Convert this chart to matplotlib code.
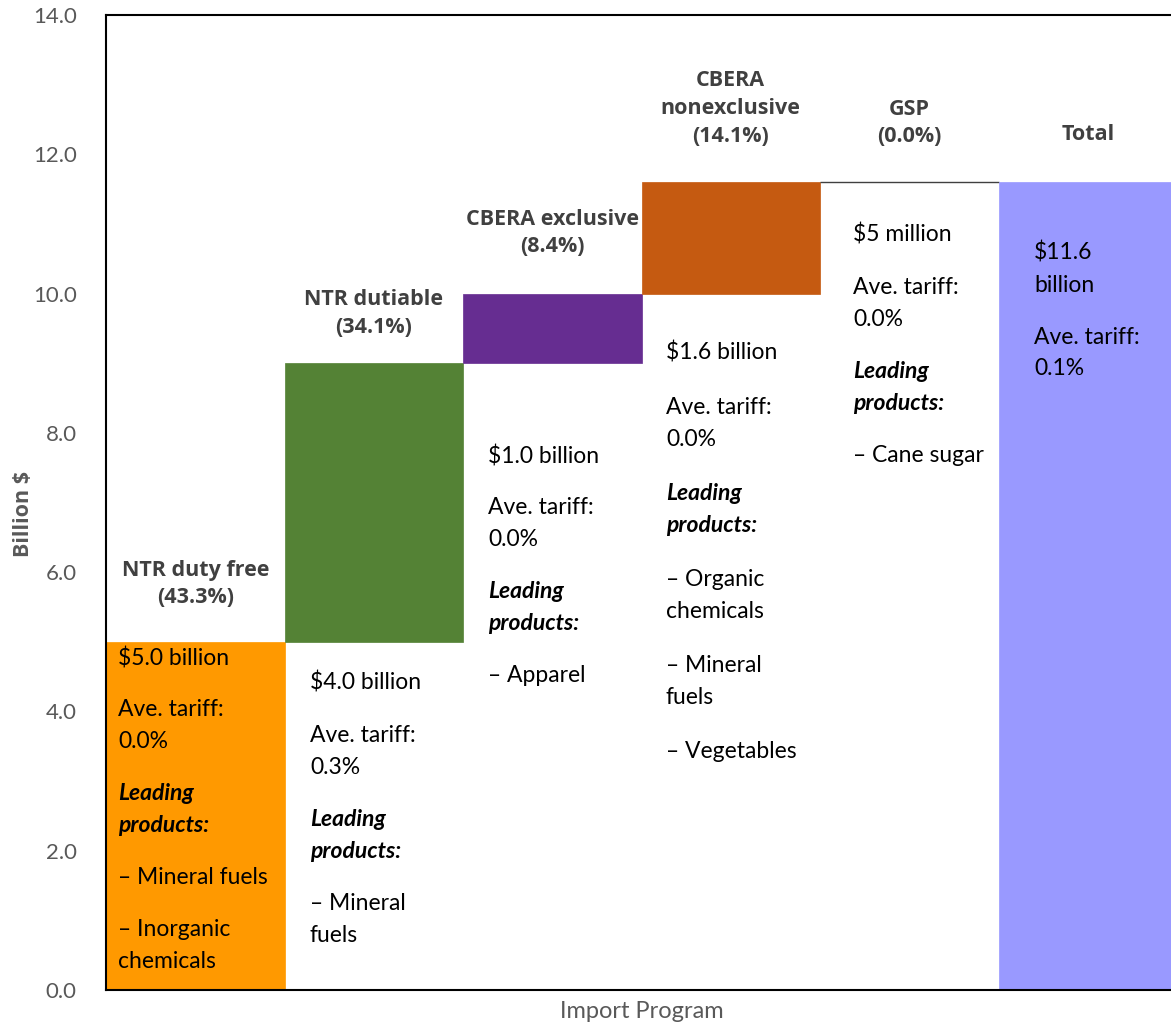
import numpy as np
import matplotlib.pyplot as plt

plt.rcdefaults()

programs = ["NTR duty free", "NTR dutiable", "CBERA exclusive",
            "CBERA nonexclusive", "GSP", "Total"]
headings = ["NTR duty free\n(43.3%)", "NTR dutiable\n(34.1%)",
            "CBERA exclusive\n(8.4%)", "CBERA\nnonexclusive\n(14.1%)",
            "GSP\n(0.0%)", "Total"]
values = [5.0, 4.0, 1.0, 1.6, 0.005]
total = 11.6
colors = ["#FF9900", "#548235", "#662D91", "#C55A11", "#FFFFFF", "#9999FF"]

# description paragraphs per column (None -> bold italic "Leading products")
notes = [
    ["$5.0 billion", "Ave. tariff:\n0.0%", None, "– Mineral fuels", "– Inorganic\nchemicals"],
    ["$4.0 billion", "Ave. tariff:\n0.3%", None, "– Mineral\nfuels"],
    ["$1.0 billion", "Ave. tariff:\n0.0%", None, "– Apparel"],
    ["$1.6 billion", "Ave. tariff:\n0.0%", None, "– Organic\nchemicals", "– Mineral\nfuels", "– Vegetables"],
    ["$5 million", "Ave. tariff:\n0.0%", None, "– Cane sugar"],
    ["$11.6\nbillion", "Ave. tariff:\n0.1%"],
]

W, H, DPI = 1171, 1024, 100
fig = plt.figure(figsize=(W / DPI, H / DPI), dpi=DPI)
ax = fig.add_axes([106 / W, 34 / H, 1071 / W, 975 / H])

x = np.arange(len(programs))
bottoms = np.concatenate([[0], np.cumsum(values)[:-1]])
ax.bar(x[:4], values[:4], width=1.0, bottom=bottoms[:4], color=colors[:4],
       edgecolor=colors[:4], linewidth=0.5)
ax.bar(x[4], values[4], width=1.0, bottom=bottoms[4], color="white",
       edgecolor="#404040", linewidth=1.0)
ax.bar(x[-1], total, width=1.0, color=colors[-1], edgecolor=colors[-1], linewidth=0.5)

ax.set_xlim(-0.5, 5.5)
ax.set_ylim(0, 14)
yt = np.arange(0, 14.1, 2)
ax.set_yticks(yt)
ax.set_yticklabels([f"{v:.1f}" for v in yt])
ax.set_xticks([])
ax.tick_params(axis="y", length=0, pad=21, labelsize=16, labelcolor="#595959")
for lbl in ax.get_yticklabels():
    lbl.set_fontfamily("Lato")
for s in ["left", "top", "bottom"]:
    ax.spines[s].set_linewidth(1.5)
    ax.spines[s].set_color("black")
ax.spines["right"].set_visible(False)

ax.set_ylabel("Billion $", fontsize=15.5, fontweight="bold", color="#595959",
              family="Open Sans", va="center")
ax.yaxis.set_label_coords(-0.0766, 0.488)
ax.set_xlabel("Import Program", fontsize=17, color="#595959", family="Lato",
              labelpad=8)

# headings
head_y = [5.83, 9.71, 10.87, 12.66, 12.45, 12.28]
for i, (h, hy) in enumerate(zip(headings, head_y)):
    ax.text(i, hy, h, ha="center", va="center", fontsize=15.5, fontweight="bold",
            color="#404040", family="Open Sans", linespacing=1.42)

# body notes, laid out line by line in pixel steps
px = 975 / 14  # pixels per data unit
note_x = [118, 310, 488, 666, 853, 1034]
note_top = [658, 683, 456, 353, 235, 253]
gaps = [52, 52, 52, 54, 52, 52]
for i, paras in enumerate(notes):
    xd = (note_x[i] - 106) / 178.5 - 0.5
    ypix = note_top[i]
    for p in paras:
        if p is None:
            text = "Leading\nproducts:"
            kw = dict(fontweight="bold", fontstyle="italic")
        else:
            text = p
            kw = {}
        lines = text.split("\n")
        for k, line in enumerate(lines):
            ax.text(xd, (990 - ypix - 32 * k) / px, line, ha="left", va="center",
                    fontsize=16.5, family="Lato", color="black", **kw)
        ypix += 32 * (len(lines) - 1) + gaps[i]

fig.savefig("out.png", dpi=DPI)
